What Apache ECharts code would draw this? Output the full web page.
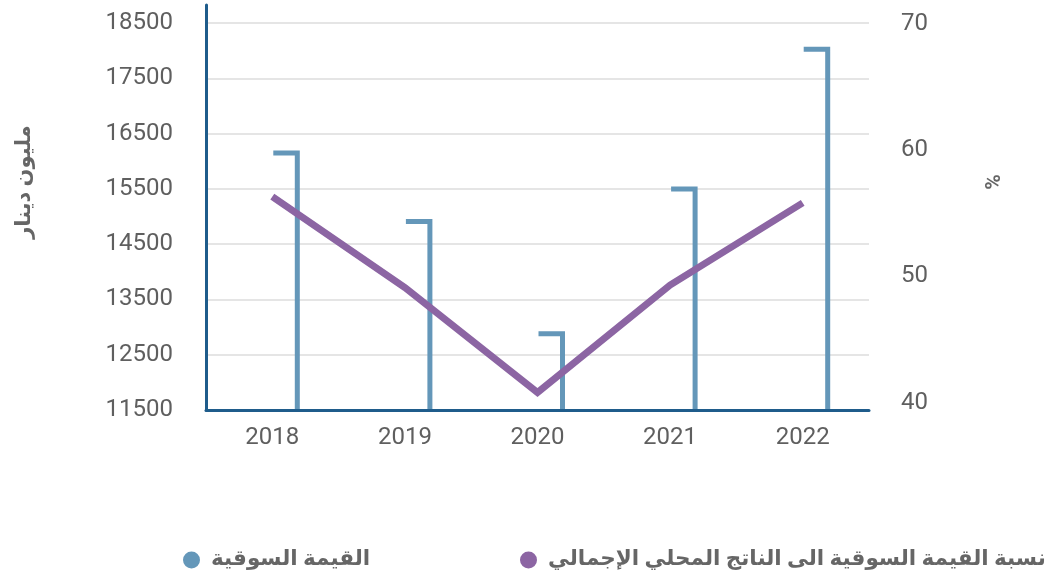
<!DOCTYPE html>
<html>
<head>
<meta charset="utf-8">
<script src="https://cdn.jsdelivr.net/npm/echarts@6/dist/echarts.min.js"></script>
<style>
  html, body { margin: 0; padding: 0; background: #fff; }
  #chart { width: 1045px; height: 575px; }
</style>
</head>
<body>
<div id="chart"></div>
<script>
// القيم مقروءة من الرسم الأصلي
const years = ['2018', '2019', '2020', '2021', '2022'];
const marketValue = [16150, 14910, 12880, 15500, 18030];   // مليون دينار
const gdpRatio = [56.3, 49.1, 40.8, 49.3, 55.8];            // %
const leftTicks = { min: 11500, max: 18830, step: 1000 };
const rightTicks = { min: 40, max: 70, step: 10 };

const barName = 'القيمة السوقية';
const lineName = 'نسبة القيمة السوقية الى الناتج المحلي الإجمالي';

const BLUE = '#6497b9';
const PURPLE = '#8c65a3';
const AXIS = '#1f5c8b';
const TEXT = '#5f5f5f';
const FONT = 'Roboto, "DejaVu Sans", sans-serif';

const chart = echarts.init(document.getElementById('chart'), null, { renderer: 'canvas' });

const legendText = { color: '#666', fontSize: 21.5, fontWeight: 'bold', fontFamily: FONT, padding: [0, 0, 0, 6] };

const option = {
    backgroundColor: '#ffffff',
    animation: false,
    grid: [
        { left: 206, right: 176, top: 5, bottom: 165 },
        { left: 206, right: 176, top: 23.5, bottom: 172.5 }
    ],
    xAxis: [
        {
            type: 'category', gridIndex: 0, data: years,
            axisLine: { lineStyle: { color: AXIS, width: 3 } },
            axisTick: { show: false },
            axisLabel: { color: TEXT, fontSize: 24, fontFamily: FONT, margin: 16 },
            z: 5
        },
        { type: 'category', gridIndex: 1, data: years, show: false }
    ],
    yAxis: [
        {
            type: 'value', gridIndex: 0,
            min: leftTicks.min, max: leftTicks.max, interval: leftTicks.step,
            axisLine: { show: true, lineStyle: { color: AXIS, width: 3 } },
            axisTick: { show: false },
            axisLabel: {
                color: TEXT, fontSize: 24, fontFamily: FONT, margin: 33,
                showMaxLabel: false, padding: [5, 0, 0, 0],
                formatter: v => String(v)
            },
            splitLine: { lineStyle: { color: '#dcdcdc', width: 1.5 }, showMaxLine: false, showMinLine: false }
        },
        {
            type: 'value', gridIndex: 1, position: 'right',
            min: rightTicks.min, max: rightTicks.max, interval: rightTicks.step,
            axisLine: { show: false },
            axisTick: { show: false },
            axisLabel: { color: TEXT, fontSize: 24, fontFamily: FONT, margin: 32 },
            splitLine: { show: false }
        }
    ],
    legend: [
        {
            data: [barName], left: 178, top: 544, icon: 'circle',
            itemWidth: 17, itemHeight: 17, textStyle: legendText
        },
        {
            data: [lineName], left: 515, top: 544, icon: 'circle',
            itemWidth: 17, itemHeight: 17, textStyle: legendText
        }
    ],
    graphic: [
        {
            type: 'text', x: 25, y: 182, rotation: Math.PI / 2,
            style: { text: 'مليون دينار', fill: '#666', font: 'bold 21px ' + FONT, align: 'center', verticalAlign: 'middle' }
        },
        {
            type: 'text', x: 995, y: 182, rotation: Math.PI / 2,
            style: { text: '%', fill: '#666', font: 'bold 21px ' + FONT, align: 'center', verticalAlign: 'middle' }
        }
    ],
    series: [
        {
            name: barName,
            type: 'custom',
            xAxisIndex: 0, yAxisIndex: 0,
            itemStyle: { color: BLUE },
            renderItem: (params, api) => {
                const top = api.coord([api.value(0), api.value(1)]);
                const base = api.coord([api.value(0), leftTicks.min]);
                // علم: غطاء أفقي قصير ثم خط عمودي إلى المحور
                const x0 = top[0] + 1;
                const x1 = top[0] + 25;
                return {
                    type: 'polyline',
                    shape: { points: [[x0, top[1]], [x1, top[1]], [x1, base[1]]] },
                    style: { stroke: BLUE, fill: null, lineWidth: 5, lineJoin: 'miter', lineCap: 'butt' }
                };
            },
            data: marketValue.map((v, i) => [i, v]),
            z: 2
        },
        {
            name: lineName,
            type: 'line',
            xAxisIndex: 1, yAxisIndex: 1,
            data: gdpRatio,
            symbol: 'none',
            itemStyle: { color: PURPLE },
            lineStyle: { color: PURPLE, width: 7, cap: 'butt', join: 'miter' },
            z: 3
        }
    ]
};

chart.setOption(option);
</script>
</body>
</html>
